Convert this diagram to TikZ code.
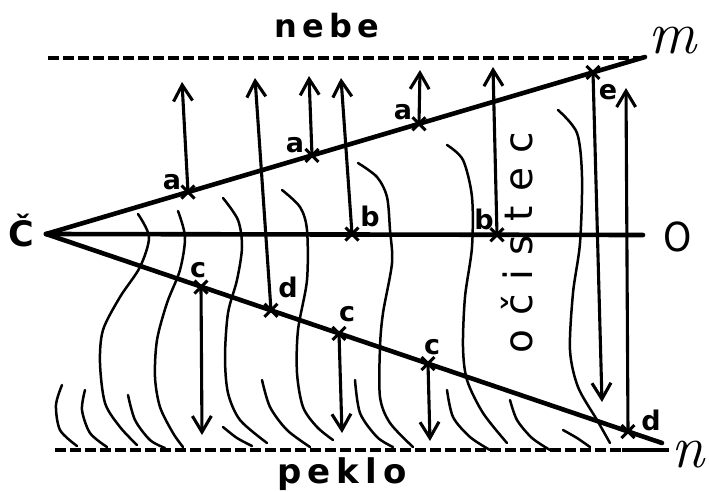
\documentclass[tikz,border=0pt]{standalone}
\usepackage{fontspec}
\usepackage{graphicx}
\newfontfamily\hand{DejaVu Sans}
\usetikzlibrary{arrows.meta,shapes.misc}
\tikzset{
  mainline/.style={line width=4.6pt, line cap=round},
  arr/.style={line width=3.1pt, line cap=round, -{Straight Barb[length=16pt,width=19pt]}},
  hatch/.style={line width=2.5pt, line cap=round},
  dashline/.style={line width=3.4pt, dash pattern=on 11pt off 4pt},
  xm/.style={cross out, draw, line width=3pt, minimum size=10pt, inner sep=0pt},
  lab/.style={font=\hand\bfseries\fontsize{27}{27}\selectfont, inner sep=0pt},
  big/.style={font=\hand\bfseries\fontsize{32}{32}\selectfont, inner sep=0pt, anchor=base},
  script/.style={font=\itshape\fontsize{60}{60}\selectfont, inner sep=0pt, anchor=base}
}
\begin{document}
\begin{tikzpicture}[x=1pt,y=-1pt]
\useasboundingbox (0,0) rectangle (709,491);
\fill[white] (0,0) rectangle (709,491);

% heaven and hell boundaries
\coordinate (tl) at (48,58); \coordinate (tr) at (645,58);
\draw[dashline] (tl) -- (tr);
\coordinate (bl) at (55,450); \coordinate (bm) at (622,450); \coordinate (br) at (669,450);
\draw[dashline] (bl) -- (bm);
\draw[line width=3.4pt] (bm) -- (br);

% purgatory hatching
\draw[hatch] plot[smooth] coordinates {(138,214) (149,237) (140,267) (120,297) (103,330) (100,363) (105,403) (120,427) (137,445)};
\draw[hatch] plot[smooth] coordinates {(178,211) (185,237) (180,270) (167,303) (157,340) (155,377) (160,407) (173,433) (183,447)};
\draw[hatch] plot[smooth] coordinates {(62,385) (56,405) (60,430) (77,446)};
\draw[hatch] plot[smooth] coordinates {(85,390) (82,410) (90,433) (107,447)};
\draw[hatch] plot[smooth] coordinates {(128,395) (135,420) (150,440) (165,448)};
\draw[hatch] plot[smooth] coordinates {(223,198) (238,220) (242,247) (237,280) (228,313) (225,357) (228,393) (240,420) (267,443)};
\draw[hatch] plot[smooth] coordinates {(223,427) (237,438) (252,446)};
\draw[hatch] plot[smooth] coordinates {(282,190) (300,207) (307,230) (307,280) (298,330) (297,373) (303,407) (317,427) (333,440)};
\draw[hatch] plot[smooth] coordinates {(262,380) (270,407) (287,430) (310,447)};
\draw[hatch] plot[smooth] coordinates {(358,163) (377,177) (387,197) (390,230) (392,263) (383,313) (380,347) (380,397) (390,423) (413,447)};
\draw[hatch] plot[smooth] coordinates {(355,380) (360,413) (377,437) (393,447)};
\draw[hatch] plot[smooth] coordinates {(447,145) (463,160) (472,197) (472,247) (465,297) (463,347) (467,380) (483,413) (507,443)};
\draw[hatch] plot[smooth] coordinates {(447,390) (453,417) (470,437) (490,450)};
\draw[hatch] plot[smooth] coordinates {(510,400) (517,420) (532,438) (550,450)};
\draw[hatch] plot[smooth] coordinates {(558,110) (577,133) (582,177) (580,243) (573,293) (570,350) (578,387) (597,420) (610,443)};
\draw[hatch] plot[smooth] coordinates {(563,430) (577,438) (590,447)};

% main lines
\coordinate (apex) at (46,234);
\coordinate (Mend) at (645,57);
\coordinate (Nend) at (662,443);
\coordinate (Oend) at (643,235);
\draw[mainline] (apex) -- (Mend);
\draw[mainline] (apex) -- (Nend);
\draw[mainline] (apex) -- (Oend);

% marked points
\node[xm] (a1) at (188,192) {};
\node[xm] (a2) at (312,155.4) {};
\node[xm] (a3) at (419,123.8) {};
\node[xm] (e1) at (593,72.4) {};
\node[xm] (b1) at (352,234) {};
\node[xm] (b2) at (497,234.8) {};
\node[xm] (c1) at (201,287) {};
\node[xm] (d1) at (271,310.3) {};
\node[xm] (c2) at (339,333.4) {};
\node[xm] (c3) at (428,363.6) {};
\node[xm] (d2) at (628,431.5) {};

% arrow ends
\coordinate (ta1) at (182,82);
\coordinate (td1) at (255,78);
\coordinate (ta2) at (309,76);
\coordinate (tb1) at (341,78);
\coordinate (ta3) at (420,70);
\coordinate (tb2) at (493,67);
\coordinate (te1) at (602,402);
\coordinate (td2) at (626,88);
\coordinate (tc1) at (202,435);
\coordinate (tc2) at (342,433);
\coordinate (tc3) at (430,441);

\draw[arr] (a1.center) -- (ta1);
\draw[arr] (d1.center) -- (td1);
\draw[arr] (a2.center) -- (ta2);
\draw[arr] (b1.center) -- (tb1);
\draw[arr] (a3.center) -- (ta3);
\draw[arr] (b2.center) -- (tb2);
\draw[arr] (e1.center) -- (te1);
\draw[arr] (d2.center) -- (td2);
\draw[arr] (c1.center) -- (tc1);
\draw[arr] (c2.center) -- (tc2);
\draw[arr] (c3.center) -- (tc3);

% point labels
\node[lab] (la1) at (172,182) {a};
\node[lab] (la2) at (295,145) {a};
\node[lab] (la3) at (403,112) {a};
\node[lab] (le1) at (608,92) {e};
\node[lab] (lb1) at (370,216) {b};
\node[lab] (lb2) at (484,219) {b};
\node[lab] (lc1) at (198,270) {c};
\node[lab] (ld1) at (288,287) {d};
\node[lab] (lc2) at (347,314) {c};
\node[lab] (lc3) at (432,347) {c};
\node[lab] (ld2) at (651,420) {d};

% titles
\node[big] (nebe) at (327,37) {n\kern5pt e\kern5pt b\kern5pt e};
\node[big, font=\hand\bfseries\fontsize{34}{34}\selectfont] (peklo) at (342,483) {p\kern6pt e\kern6pt k\kern6pt l\kern6pt o};
\node[big, font=\hand\bfseries\fontsize{35}{35}\selectfont] (Cz) at (21,246) {Č};
\node[big, font=\hand\fontsize{40}{40}\selectfont] (O) at (678,251) {\scalebox{0.9}[1]{O}};
\node[script] (m) at (672,53) {m};
\node[script] (n) at (688,467) {n};
\node[inner sep=0pt, anchor=base, rotate=90, font=\hand\fontsize{39}{39}\selectfont] (ocistec) at (532,243) {o\kern14pt č\kern14pt i\kern14pt s\kern14pt t\kern14pt e\kern14pt c};
\end{tikzpicture}
\end{document}
